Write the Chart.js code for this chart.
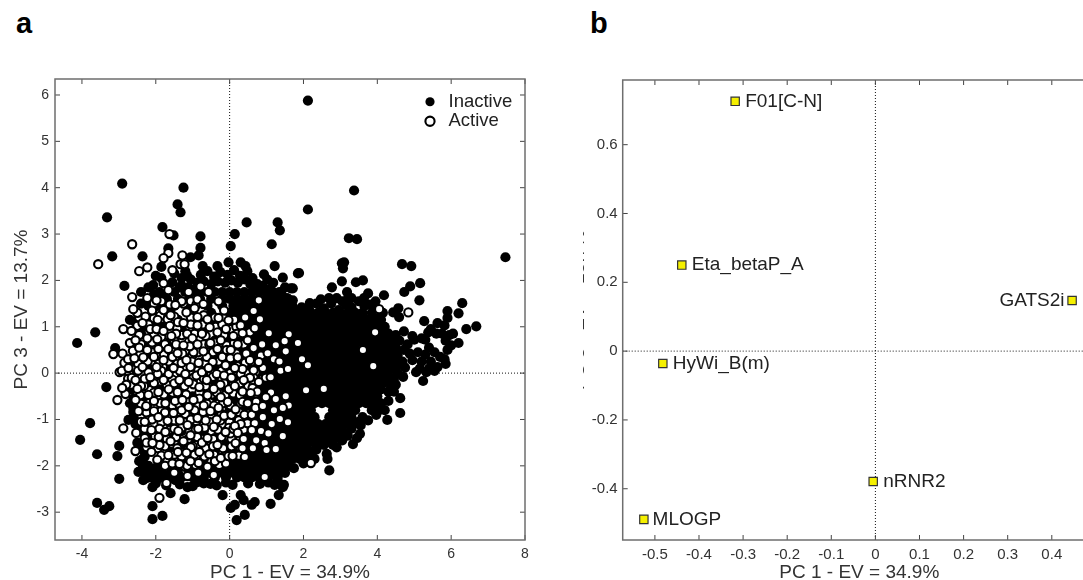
<!DOCTYPE html>
<html>
<head>
<meta charset="utf-8">
<style>
html, body { margin: 0; padding: 0; background: #fff; width: 1083px; height: 580px; overflow: hidden; }
canvas { position: absolute; top: 0; }
#chartA { left: 0; }
#chartB { left: 583px; }
.panel { position: absolute; top: 7px; font: bold 29px "Liberation Sans", Arial, sans-serif; color: #000; }
</style>
<script src="https://cdn.jsdelivr.net/npm/chart.js@4"></script>
</head>
<body>
<div class="panel" style="left:16px">a</div>
<div class="panel" style="left:590px">b</div>
<canvas id="chartA" width="560" height="580"></canvas>
<canvas id="chartB" width="520" height="580"></canvas>
<script>
var xTitle = "PC 1 - EV = 34.9%";
var yTitle = "PC 3 - EV = 13.7%";

// panel a ticks
var scoreXTicks = [-4, -2, 0, 2, 4, 6, 8];
var scoreYTicks = [-3, -2, -1, 0, 1, 2, 3, 4, 5, 6];
// panel b ticks
var loadXTicks = [-0.5, -0.4, -0.3, -0.2, -0.1, 0, 0.1, 0.2, 0.3, 0.4];
var loadYTicks = [-0.4, -0.2, 0, 0.2, 0.4, 0.6];

// panel b loadings
var variableNames = ["F01[C-N]", "Eta_betaP_A", "GATS2i", "HyWi_B(m)", "nRNR2", "MLOGP"];
var loadX = [-0.318, -0.439, 0.446, -0.482, -0.005, -0.525];
var loadY = [0.726, 0.25, 0.147, -0.036, -0.379, -0.489];

// inactive molecules that stand alone, read one by one
var inactiveSingles = [
[2.12,5.88],[3.37,3.94],[2.12,3.53],[3.23,2.91],[3.45,2.89],[7.47,2.5],[3.04,2.37],[3.1,2.39],[3.07,2.26],[1.88,2.16],
[4.67,2.35],[4.92,2.31],[5.16,1.94],[4.89,1.87],[4.73,1.75],[5.14,1.57],[4.18,1.68],[3.61,2.0],[3.75,1.72],[3.64,1.62],
[4.57,1.4],[4.43,1.31],[4.59,1.21],[6.3,1.51],[5.9,1.34],[6.2,1.29],[5.9,1.19],[6.68,1.01],[6.41,0.95],[5.27,1.12],
[5.63,1.08],[5.82,1.03],[5.38,0.88],[5.95,0.82],[6.2,0.65],[5.82,0.3],[5.63,0.13],[5.33,0.02],[5.24,-0.17],[5.05,0.02],
[5.3,0.72],[5.4,0.55],[5.55,0.45],[5.7,0.35],[5.3,0.4],[5.2,0.25],[5.45,0.25],[5.2,0.75],[5.85,0.7],[6.0,0.6],
[5.9,0.5],[5.75,0.85],[5.6,0.85],[5.45,0.95],[6.05,0.85],[5.85,0.2],[5.55,0.05],[5.15,0.1],[5.4,0.1],[5.1,0.45],
[-2.91,4.09],[-1.25,4.0],[-1.41,3.64],[-1.33,3.47],[-3.32,3.36],[-1.82,3.15],[0.46,3.25],[0.14,3.0],[-0.79,2.95],[-1.52,2.97],
[0.03,2.74],[1.3,3.25],[1.36,3.08],[1.14,2.78],[-0.79,2.7],[-3.18,2.52],[-2.36,2.52],[-1.66,2.69],[-1.85,2.29],[-2.85,1.88],
[-1.06,2.5],[-0.84,2.54],[-0.73,2.31],[-0.33,2.31],[-0.03,2.39],[0.3,2.39],[0.43,2.31],[0.93,2.13],[1.22,2.31],[1.85,2.15],
[1.44,2.06],[1.71,1.83],[1.66,1.83],[1.71,1.57],[2.17,1.51],[2.47,1.59],[2.69,1.62],[2.77,1.85],[3.04,1.98],[3.42,1.96],[3.18,1.75],
[-2.07,1.9],[-1.55,1.96],
[-4.13,0.65],[-3.64,0.88],[-3.1,0.54],[-3.34,-0.3],[-3.78,-1.08],[-4.05,-1.44],[-3.59,-1.75],[-2.99,-1.57],[-3.04,-1.79],[-2.99,-2.28],
[-3.59,-2.8],[-3.4,-2.95],[-3.26,-2.87],[-2.74,-1.01],[-2.61,-0.84],[-2.61,-0.75],[-2.42,-1.62],[-2.45,-1.9],[-2.47,-2.13],[-2.23,-1.38],[-2.28,-1.51],
[-0.19,-2.63],[-0.52,-2.39],[-0.87,-2.35],[-1.14,-2.46],[-1.22,-2.72],[-1.6,-2.59],[-2.09,-2.87],[-1.82,-3.08],[-2.09,-3.15],[-2.34,-2.31],
[-2.09,-2.46],[-2.23,-2.26],[-1.88,-2.26],[-1.47,-2.31],[0.03,-2.91],[0.19,-3.17],[0.41,-3.06],[0.68,-2.78],[0.6,-2.84],[1.11,-2.82],
[1.33,-2.63],[1.22,-2.41],[1.44,-2.46],[0.82,-2.39],[0.38,-2.74],[0.14,-2.84],[0.3,-2.63],[0.08,-2.41],
[4.62,-0.86],[4.62,-0.54],[4.27,-1.01],[3.34,-1.53],[3.53,-1.31],[3.55,-1.13],[3.97,-0.9],[2.7,-2.1],[2.65,-1.85],[2.74,-1.5],[2.63,-1.74],[1.74,-2.05],[1.47,-2.41],
[-0.78,2.12],[-0.6,2.2],[-0.42,2.08],[-0.25,2.18],[-0.05,2.12],[0.12,2.22],[0.28,2.1],[0.48,2.2],[0.62,2.05],[-1.05,2.02],
[-0.88,1.95],[-0.7,1.98],[-0.5,1.92],[-0.32,1.98],[-0.12,1.95],[0.05,2.0],[0.22,1.95],[0.4,2.02],[0.56,1.92],[0.75,1.92],
[1.02,2.02],[1.18,1.95],[-1.3,1.88],[-1.12,1.85],[-0.92,1.82],[0.9,1.88],[1.1,1.82],[0.72,1.8],
[1.95,1.42],[2.15,1.38],[2.35,1.5],[2.55,1.4],[2.75,1.5],[2.95,1.36],[3.15,1.47],[3.3,1.42],[3.65,1.45],
[4.5,0.82],[4.72,0.9],[4.95,0.8],[4.6,0.7],[4.82,0.62],[5.0,0.72],[4.5,0.55],[4.72,0.5],[4.88,0.42],[4.55,0.38],
[4.68,0.25],[4.52,0.15],[4.95,0.28],[4.75,0.12],[4.55,0.0],[4.7,-0.08],[4.45,-0.12],[4.35,-0.22],
[3.5,-1.05],[3.6,-0.95],[3.75,-1.02],[3.2,-1.35],[3.3,-1.2],[2.95,-1.4],[3.05,-1.45],[3.15,-1.3],[3.45,-1.4],[2.8,-1.55],
[2.9,-1.6],[4.0,-0.75],[4.2,-0.8],[4.3,-0.6],[4.45,-0.4],[4.3,-0.4],[4.5,-0.25],
[2.2,-1.7],[2.35,-1.55],[2.3,-1.45],[2.1,-1.85],[2.0,-1.95],[2.35,-1.65],[2.05,-1.82],[2.3,-1.85],
[2.9,1.62],[3.05,1.55],[3.3,1.62],[3.5,1.55],[3.8,1.48],[3.95,1.42],[4.15,1.3],[4.05,1.2],[3.95,1.55],[1.4,1.72],[1.55,1.62],[1.5,1.85],
[-2.4,1.75],[-2.2,1.85],[-1.9,1.75],[-2.05,1.7],[-1.5,1.75],[-1.35,1.85],[-1.75,1.65],[-2.4,1.5],[-2.2,1.45],[-1.85,1.45],
[-2.7,1.15],[-2.55,1.1],[-1.15,2.1],[-1.3,2.05],[-1.5,2.15],[-1.2,2.2],[-1.85,2.05],[-2.0,2.1],
[-2.6,-1.0],[-2.5,-1.5],[-2.6,-0.55],[-2.55,-1.1],[-2.3,-1.8],[-2.35,-2.0],[-2.15,-2.1],
[-2.0,-2.38],[-1.72,-2.42],[-1.35,-2.4],[-1.0,-2.44],[-0.7,-2.38],[-0.35,-2.42],[-0.1,-2.36],[0.5,-2.38],[1.05,-2.36],[1.3,-2.32]
];

// inactive molecules in the dense cloud, one [y, x values] per row
var inactiveRows = [
[1.75,[-1.2,-1,-0.8,-0.6,-0.4,-0.2,0,0.2,0.4,0.6,0.8,1,1.18,1.35]],
[1.6,[-1.7,-1.4,-1.1,-0.8,-0.5,-0.2,0,0.2,0.4,0.6,0.8,1,1.2,1.4,1.58,3.2]],
[1.45,[-1.95,-1.5,-1.1,-0.6,-0.2,0.1,0.3,0.5,0.7,0.9,1.1,1.3,1.5,1.7]],
[1.3,[-2.5,-2.1,-1.6,-1,-0.5,0,0.2,0.4,0.6,0.8,1,1.2,1.4,1.6,1.8,2,2.2,2.4,2.6,2.8,3,3.2,3.4,3.6,3.85]],
[1.15,[-2.45,-2,-1.4,-0.8,-0.2,0.1,0.3,0.5,0.7,0.9,1.1,1.3,1.5,1.7,1.9,2.1,2.3,2.5,2.7,2.9,3.1,3.3,3.5,3.7,3.9,4.1]],
[1,[-2.3,-1.8,-1.2,-0.6,0,0.2,0.4,0.6,0.8,1,1.2,1.4,1.6,1.8,2,2.2,2.4,2.6,2.8,3,3.2,3.4,3.6,3.8,4,4.2]],
[0.85,[-2.4,-1.9,-1.3,-0.7,-0.1,0.1,0.3,0.5,0.7,0.9,1.1,1.3,1.5,1.7,1.9,2.1,2.3,2.5,2.7,2.9,3.1,3.3,3.5,3.7,3.9,4.1,4.3]],
[0.7,[-2.2,-1.6,-1,-0.4,0,0.2,0.4,0.6,0.8,1,1.2,1.4,1.6,1.8,2,2.2,2.4,2.6,2.8,3,3.2,3.4,3.6,3.8,4,4.2,4.4]],
[0.55,[-2.5,-1.9,-1.3,-0.7,-0.1,0.1,0.3,0.5,0.7,0.9,1.1,1.3,1.5,1.7,1.9,2.1,2.3,2.5,2.7,2.9,3.1,3.3,3.5,3.7,3.9,4.1,4.3]],
[0.4,[-2.2,-1.6,-1,-0.4,0,0.2,0.4,0.6,0.8,1,1.2,1.4,1.6,1.8,2,2.2,2.4,2.6,2.8,3,3.2,3.4,3.6,3.8,4,4.2,4.4]],
[0.25,[-2.6,-1.9,-1.3,-0.7,-0.1,0.1,0.3,0.5,0.7,0.9,1.1,1.3,1.5,1.7,1.9,2.1,2.3,2.5,2.7,2.9,3.1,3.3,3.5,3.7,3.9,4.1,4.3,4.5]],
[0.1,[-2.2,-1.6,-1,-0.4,0,0.2,0.4,0.6,0.8,1,1.2,1.4,1.6,1.8,2,2.2,2.4,2.6,2.8,3,3.2,3.4,3.6,3.8,4,4.2,4.4]],
[-0.05,[-2.6,-1.9,-1.3,-0.7,-0.1,0.1,0.3,0.5,0.7,0.9,1.1,1.3,1.5,1.7,1.9,2.1,2.3,2.5,2.7,2.9,3.1,3.3,3.5,3.7,3.9,4.1,4.3]],
[-0.2,[-2.2,-1.6,-1,-0.4,0,0.2,0.4,0.6,0.8,1,1.2,1.4,1.6,1.8,2,2.2,2.4,2.6,2.8,3,3.2,3.4,3.6,3.8,4,4.2]],
[-0.35,[-2.65,-1.9,-1.3,-0.7,-0.1,0.1,0.3,0.5,0.7,0.9,1.1,1.3,1.5,1.7,1.9,2.1,2.3,2.5,2.7,2.9,3.1,3.3,3.5,3.7,3.9,4.1]],
[-0.5,[-2.3,-1.6,-1,-0.4,0,0.2,0.4,0.6,0.8,1,1.2,1.4,1.6,1.8,2,2.2,2.4,2.6,2.8,3,3.2,3.4,3.6,3.8,4]],
[-0.65,[-2.7,-1.9,-1.3,-0.7,-0.1,0.1,0.3,0.5,0.7,0.9,1.1,1.3,1.5,1.7,1.9,2.1,2.3,2.5,2.7,2.9,3.1,3.3,3.5,3.7,3.9,4.1]],
[-0.8,[-2.4,-1.6,-1,-0.4,0,0.2,0.4,0.6,0.8,1,1.2,1.4,1.6,1.8,2,2.2,2.8,3,3.2,3.4,3.85,4.05]],
[-0.95,[-2.6,-1.9,-1.3,-0.7,-0.1,0.1,0.3,0.5,0.7,0.9,1.1,1.3,1.5,1.7,1.9,2.1,2.3,2.7,2.9,3.1,3.3]],
[-1.1,[-2.3,-1.6,-1,-0.4,0,0.2,0.4,0.6,0.8,1,1.2,1.4,1.6,1.8,2,2.2,2.4,2.6,2.8,3,3.2,3.35]],
[-1.25,[-2.45,-1.9,-1.3,-0.7,-0.1,0.1,0.3,0.5,0.7,0.9,1.1,1.3,1.5,1.7,1.9,2.1,2.3,2.5,2.7,2.9,3.05]],
[-1.4,[-2.3,-1.6,-1,-0.4,0,0.2,0.4,0.6,0.8,1,1.2,1.4,1.6,1.8,2,2.2,2.4,2.6,2.8]],
[-1.55,[-2.4,-1.9,-1.3,-0.7,-0.1,0.1,0.3,0.5,0.7,0.9,1.1,1.3,1.5,1.7,1.9,2.1,2.55]],
[-1.7,[-2.3,-1.6,-1,-0.4,0,0.2,0.4,0.6,0.8,1,1.2,1.4,1.6,1.8,2]],
[-1.85,[-2.35,-1.9,-1.3,-0.7,-0.1,0.1,0.3,0.5,0.7,0.9,1.1,1.3,1.5,1.7,1.9]],
[-2,[-2.2,-1.95,-1.75,-1.45,-1.2,-1,-0.7,-0.4,-0.15,0,0.2,0.4,0.6,0.8,1,1.2,1.4,1.6]],
[-2.15,[-2.3,-2,-1.85,-1.6,-1.4,-1.1,-0.9,-0.7,-0.5,-0.3,-0.1,0.1,0.3,0.5,0.7,0.9,1.1,1.3,1.5]],
[-2.25,[-2.1,-1.65,-1.3,-1,-0.7,-0.4,-0.1,0.2,0.4,0.6,0.8,1.05,1.3]]
];

// active molecules hidden lower in the pile
var activeUnder = [
[-2.05,1.5],[-1.85,1.55],[-1.62,1.48],[-1.25,1.5],[-1.05,1.55],[-0.9,1.48],
[-2.45,1.2],[-2.28,1.22],[-2.05,1.18],[-1.88,1.24],[-1.68,1.16],[-1.5,1.22],[-1.05,1.2],[-0.7,1.25],[-0.45,1.18],[-0.18,1.2],
[-2.5,1.02],[-2.2,1.05],[-2.0,0.98],[-1.62,1.02],[-1.42,0.96],[-1.08,0.98],[-0.72,1.02],[-0.38,1.0],[-0.2,1.05],[0.02,0.95],[0.18,1.0],
[-2.45,0.82],[-2.05,0.85],[-1.85,0.78],[-1.3,0.82],[-0.95,0.85],[-0.65,0.8],[-0.15,0.82],[0.2,0.85],
[-2.7,0.65],[-2.4,0.62],[-2.1,0.66],[-1.75,0.62],[-1.5,0.7],[-1.1,0.68],[-0.7,0.62],[-0.38,0.66],[-0.08,0.6],[0.12,0.65],[0.38,0.62],
[-2.9,0.42],[-2.62,0.48],[-2.42,0.4],[-2.08,0.45],[-1.78,0.4],[-1.55,0.46],[-1.28,0.42],[-1.02,0.38],[-0.85,0.45],[-0.55,0.4],[-0.2,0.48],[0.18,0.42],[0.45,0.45],
[-2.85,0.22],[-2.48,0.2],[-2.22,0.25],[-1.92,0.2],[-1.65,0.25],[-1.42,0.2],[-1.02,0.25],[-0.65,0.2],[-0.3,0.25],[-0.08,0.2],[0.42,0.22],[0.6,0.25],
[-2.98,0.02],[-2.72,-0.02],[-2.48,0.05],[-2.2,0.02],[-1.85,0.05],[-1.5,-0.02],[-1.35,0.05],[-1.05,0.0],[-0.85,0.06],[-0.5,0.0],[-0.22,0.05],[0.02,0.0],[0.2,0.05],[0.45,0.0],[0.7,0.02],
[-2.75,-0.12],[-2.05,-0.1],[-1.55,-0.14],[-0.98,-0.1],[-0.7,-0.12],[-0.45,-0.08],[0.65,-0.1],[0.9,-0.12],
[-2.65,-0.25],[-2.32,-0.28],[-2.05,-0.22],[-1.7,-0.26],[-1.5,-0.22],[-1.22,-0.28],[-0.98,-0.24],[-0.65,-0.28],[-0.15,-0.22],[0.1,-0.26],[0.28,-0.22],[0.5,-0.28],[0.65,-0.24],
[-2.82,-0.45],[-2.42,-0.48],[-2.05,-0.42],[-1.78,-0.46],[-1.55,-0.42],[-1.18,-0.46],[-0.82,-0.42],[-0.48,-0.46],[-0.35,-0.42],[-0.12,-0.48],[0.1,-0.44],[0.28,-0.48],[0.72,-0.44],
[-2.4,-0.66],[-2.02,-0.7],[-1.88,-0.65],[-1.55,-0.7],[-1.38,-0.66],[-0.88,-0.7],[-0.62,-0.66],[-0.42,-0.7],[-0.18,-0.65],[0.02,-0.7],[0.3,-0.66],[0.65,-0.7],
[-2.25,-0.85],[-2.05,-0.82],[-1.62,-0.88],[-1.4,-0.84],[-1.2,-0.88],[-0.72,-0.84],[-0.22,-0.88],[0.25,-0.84],[0.5,-0.88],
[-2.4,-1.05],[-2.2,-1.02],[-1.85,-1.06],[-1.5,-1.02],[-1.22,-1.06],[-0.9,-1.04],[-0.52,-1.06],[-0.25,-1.02],[0.0,-1.06],[0.25,-1.02],[0.45,-1.06],
[-2.3,-1.2],[-1.6,-1.22],[-1.3,-1.18],[-0.92,-1.22],[-0.68,-1.18],[-0.32,-1.22],[-0.02,-1.18],[0.38,-1.22],
[-2.3,-1.4],[-1.92,-1.38],[-1.7,-1.42],[-1.45,-1.38],[-1.12,-1.42],[-0.88,-1.38],[-0.45,-1.42],[-0.15,-1.38],[0.05,-1.42],[0.28,-1.4],
[-2.25,-1.6],[-1.95,-1.62],[-1.75,-1.58],[-1.42,-1.62],[-1.0,-1.58],[-0.65,-1.62],[-0.45,-1.58],[-0.18,-1.62],[0.05,-1.58],[0.3,-1.62],
[-1.85,-1.78],[-1.5,-1.76],[-1.3,-1.8],[-0.95,-1.76],[-0.68,-1.8],[-0.42,-1.76],[-0.12,-1.8],[0.25,-1.78],
[-1.75,-2.0],[-1.52,-1.96],[-1.2,-2.02],[-0.92,-1.98],[-0.6,-2.02],[-0.28,-1.98],[-1.5,-2.15],[-0.85,-2.15],
[0.42,1.2],[0.55,0.88],[0.88,0.62],[0.45,0.42],[0.85,0.38],[1.2,0.3],[0.55,0.28],[1.35,0.25],[0.98,-0.1],[0.62,-0.32],
[0.35,-0.62],[0.72,-0.62],[1.12,-0.42],[0.48,-1.08],[0.85,-1.25],[0.35,-1.62],[0.72,-1.45],[1.05,-1.3],[1.6,-0.7],[1.2,-0.8],[1.38,0.05]
];

// active molecules, read one by one; the later ones lie on top
var activePoints = [
[-2.5,1.3],[-2.1,1.35],[-1.6,1.25],[-1.4,1.1],[-1.05,1.05],[-0.72,1.05],[-0.4,1.2],[-0.15,1.35],[-0.3,1.55],[-0.95,1.4],
[-1.3,1.55],[-1.95,1.15],[-2.15,0.95],[-1.98,0.95],[-1.45,0.85],[-1.15,0.85],[-0.75,0.85],[-0.1,0.95],[0.1,0.8],[0.12,1.15],
[-0.45,0.45],[-0.2,0.35],[0.02,0.32],[0.2,0.15],[-0.55,0.62],[-0.62,0.35],[-0.98,0.45],[-1.08,0.58],[-1.45,0.62],[-1.55,0.35],
[-1.3,0.22],[-2.05,0.35],[-2.45,0.55],[-2.75,0.3],[-2.92,0.05],[-2.65,-0.1],[-2.8,-0.25],[-2.3,-0.12],[-1.95,-0.02],[-1.65,-0.02],
[-1.2,-0.02],[-0.9,-0.05],[-0.75,0.02],[-0.35,-0.02],[-0.15,-0.05],[0.05,-0.1],[0.3,-0.02],[0.55,-0.1],[-0.62,-0.15],[-0.25,-0.25],
[-0.02,-0.35],[0.35,-0.4],[-0.6,-0.48],[-0.82,-0.55],[-1.48,-0.6],[-1.65,-0.35],[-2.05,-0.6],[-2.4,-0.28],[-1.75,-0.85],[-1.3,-0.8],
[-0.95,-0.8],[-0.7,-0.7],[-0.3,-0.75],[-0.05,-0.62],[-0.15,-0.92],[-0.35,-1.0],[-0.65,-1.02],[-1.05,-1.0],[-1.35,-1.02],[-2.1,-1.0],
[-2.3,-1.05],[-1.9,-1.2],[-1.5,-1.2],[-0.85,-1.2],[-0.22,-1.38],[0.02,-1.3],[-0.75,-1.5],[-1.05,-1.6],[-1.4,-1.7],[-1.9,-1.55],
[-0.55,-1.75],[-0.1,-1.95],[-0.4,-1.9],[-1.55,-1.95],[-2.25,-1.5],[-1.15,-2.0],[0.1,-1.2],[0.4,-0.9],[0.6,-0.9],[0.05,-0.9],
[0.3,-1.1],[0.75,-0.4],[0.7,-0.75],
[-1.63,3.0],[-2.64,2.78],[-3.56,2.35],[-1.66,2.59],[-1.79,2.48],[-1.28,2.54],[-1.33,2.35],[-1.22,2.35],[-1.55,2.22],[-2.23,2.28],[-2.45,2.2],
[-2.64,1.64],[-2.23,1.62],[-1.98,1.57],[-1.79,1.94],[-1.66,1.79],[-1.11,1.75],[-0.87,1.59],[-0.79,1.87],[-0.57,1.75],[-0.71,1.49],
[-2.61,1.38],[-1.79,1.36],[-1.47,1.47],[-1.17,1.31],[-2.36,1.08],[-2.88,0.95],[-2.66,0.91],[-1.79,0.91],[-1.25,1.08],[-0.87,1.21],
[-0.87,1.03],[-0.6,1.16],[-0.54,0.99],[-0.33,0.88],[-1.58,0.8],[-2.55,0.71],[-2.23,0.75],[-1.96,0.73],[-1.01,0.75],[-1.25,0.6],
[-0.87,0.62],[-0.52,0.65],[-0.24,0.71],[-1.93,0.52],[-1.66,0.52],[-2.23,0.5],[-0.71,0.47],[-0.33,0.52],[-3.15,0.41],[-1.41,0.43],
[-2.58,0.32],[-2.34,0.34],[-1.79,0.28],[-1.17,0.28],[-0.84,0.22],[-0.46,0.24],[-2.74,0.11],[-2.36,0.13],[-1.98,0.13],[-1.52,0.11],
[-1.06,0.13],[-0.57,0.11],[-0.11,0.17],[-0.08,0.5],[-0.3,1.19],[-0.03,1.14],
[-2.91,-0.32],[-3.04,-0.58],[-2.55,-0.15],[-2.5,-0.34],[-2.15,-0.09],[-1.79,-0.15],[-1.36,-0.15],[-1.11,-0.19],[-0.82,-0.3],[-0.43,-0.34],
[-1.93,-0.41],[-1.41,-0.41],[-2.2,-0.47],[-2.55,-0.58],[-1.74,-0.65],[-1.28,-0.58],[-0.98,-0.58],[-0.24,-0.52],[-2.26,-0.71],[-1.11,-0.73],
[-0.52,-0.82],[-2.47,-0.82],[-1.93,-0.95],[-1.52,-0.86],[-0.87,-0.97],[-2.88,-1.19],[-2.53,-1.29],[-1.68,-1.03],[-1.14,-1.12],[-0.43,-1.16],
[-0.11,-1.27],[-2.12,-1.23],[-1.74,-1.27],[-1.39,-1.25],[-1.06,-1.34],[-0.6,-1.4],[-2.09,-1.51],[-1.6,-1.47],[-1.25,-1.47],[-0.33,-1.55],
[-2.55,-1.68],[-2.12,-1.7],[-1.66,-1.77],[-1.17,-1.72],[-0.82,-1.7],[-1.96,-1.87],[-1.36,-1.96],[-0.84,-1.94],[-0.24,-1.83],[-1.14,-2.22],
[-0.43,-2.2],[-1.71,-2.37],[-1.9,-2.69],[-0.03,-1.79],[-1.06,-1.9],
[0.79,1.57],[0.65,1.34],[0.82,1.16],[0.3,1.03],[0.68,0.97],[1.06,0.86],[1.6,0.84],[1.49,0.69],[1.85,0.65],[1.25,0.6],
[0.22,0.62],[0.35,0.86],[0.03,0.5],[0.65,0.54],[1.03,0.43],[1.52,0.47],[1.96,0.3],[2.12,0.17],[1.58,0.09],[0.9,0.11],
[0.65,0.06],[0.35,0.09],[0.22,0.34],[0.49,0.71],[0.14,0.11],[0.79,0.24],
[2.07,-0.37],[2.55,-0.34],[1.52,-0.5],[1.11,-0.09],[0.79,-0.19],[0.38,-0.15],[0.14,-0.28],[0.57,-0.43],[0.98,-0.52],[1.25,-0.56],
[0.49,-0.65],[0.9,-0.71],[1.44,-0.75],[0.16,-0.78],[0.9,-0.95],[1.36,-0.99],[1.58,-1.06],[1.14,-1.1],[0.14,-1.14],[0.68,-1.08],
[0.6,-1.23],[0.22,-1.29],[1.44,-1.36],[0.38,-1.42],[0.95,-1.51],[0.16,-1.51],[0.63,-1.62],[1.25,-1.64],[1.0,-1.66],[0.41,-1.81],
[0.08,-1.79],[2.2,-1.94],[0.95,-2.24],[3.94,0.88],[3.61,0.5],[3.89,0.15],[4.05,1.38],[4.84,1.31]
];

var fontName = '"Liberation Sans", Arial, sans-serif';

function toPoints(pairs) {
    return pairs.map(function (p) { return { x: p[0], y: p[1] }; });
}

function rowsToPoints(rows) {
    var out = [];
    rows.forEach(function (row) {
        row[1].forEach(function (x) { out.push({ x: x, y: row[0] }); });
    });
    return out;
}

// frame, inward ticks and dotted zero lines
var framePlugin = {
    id: "frame",
    beforeDatasetsDraw: function (chart) {
        var c = chart.ctx, a = chart.chartArea;
        var zx = chart.scales.x.getPixelForValue(0), zy = chart.scales.y.getPixelForValue(0);
        c.save();
        c.strokeStyle = "#111";
        c.lineWidth = 1;
        c.setLineDash([1, 2]);
        c.beginPath();
        c.moveTo(zx, a.top); c.lineTo(zx, a.bottom);
        c.moveTo(a.left, zy); c.lineTo(a.right, zy);
        c.stroke();
        c.restore();
    },
    afterDatasetsDraw: function (chart) {
        var c = chart.ctx, a = chart.chartArea;
        c.save();
        c.strokeStyle = "#444";
        c.lineWidth = 1;
        c.beginPath();
        chart.scales.x.ticks.forEach(function (t) {
            var p = chart.scales.x.getPixelForValue(t.value);
            c.moveTo(p, a.bottom); c.lineTo(p, a.bottom - 5);
            c.moveTo(p, a.top); c.lineTo(p, a.top + 5);
        });
        chart.scales.y.ticks.forEach(function (t) {
            var p = chart.scales.y.getPixelForValue(t.value);
            c.moveTo(a.left, p); c.lineTo(a.left + 5, p);
            c.moveTo(a.right, p); c.lineTo(a.right - 5, p);
        });
        c.stroke();
        c.strokeStyle = "#6e6e6e";
        c.lineWidth = 1.5;
        c.strokeRect(a.left, a.top, a.right - a.left, a.bottom - a.top);
        c.restore();
    }
};

// moves the legend to the top right corner of panel a
var legendPlacePlugin = {
    id: "legendPlace",
    afterLayout: function (chart) {
        var l = chart.legend;
        l.left = 419.75; l.top = 91.5;
        l.right = 540; l.bottom = 140;
        l.width = l.right - l.left; l.height = l.bottom - l.top;
    }
};

// names beside the squares in panel b
var namePlugin = {
    id: "names",
    afterDatasetsDraw: function (chart) {
        var c = chart.ctx, pts = chart.getDatasetMeta(0).data;
        c.save();
        c.font = "19px " + fontName;
        c.fillStyle = "#222";
        c.textBaseline = "middle";
        pts.forEach(function (el, i) {
            var left = variableNames[i] === "GATS2i";
            c.textAlign = left ? "right" : "left";
            var gap = variableNames[i] === "MLOGP" ? 8.7 : 10;
            c.fillText(variableNames[i], el.x + (left ? -7.5 : gap), el.y);
        });
        c.restore();
    }
};

function axis(min, max, ticks, label, isX, fmt, titlePad, fitSize, fontSize, tickPad) {
    return {
        type: "linear",
        position: isX ? "bottom" : "left",
        min: min,
        max: max,
        afterBuildTicks: function (s) { s.ticks = ticks.map(function (v) { return { value: v }; }); },
        afterFit: function (s) { if (isX) { s.height = fitSize; } else { s.width = fitSize; } },
        grid: { display: false, drawTicks: false },
        border: { display: false },
        ticks: {
            autoSkip: false, maxRotation: 0, padding: tickPad, color: "#333",
            font: { family: fontName, size: fontSize },
            callback: fmt
        },
        title: {
            display: true, text: label, color: "#333", padding: titlePad,
            font: { family: fontName, size: 19 }
        }
    };
}

var chartA = new Chart(document.getElementById("chartA"), {
    type: "scatter",
    plugins: [framePlugin, legendPlacePlugin],
    data: {
        datasets: [
            {
                label: "Inactive", order: 2,
                data: toPoints(inactiveSingles).concat(rowsToPoints(inactiveRows)),
                pointStyle: "circle", pointRadius: 5.1, borderWidth: 0,
                backgroundColor: "#000", borderColor: "#000"
            },
            {
                label: "Active", order: 1,
                data: toPoints(activeUnder).concat(toPoints(activePoints)),
                pointStyle: "circle", pointRadius: 4.1, borderWidth: 2.1,
                backgroundColor: "#fff", borderColor: "#000"
            }
        ]
    },
    options: {
        responsive: false, animation: false,
        layout: { padding: { top: 79, right: 35, left: 0, bottom: 0 } },
        plugins: {
            tooltip: { enabled: false },
            legend: {
                position: "chartArea", align: "start",
                labels: {
                    usePointStyle: true, boxHeight: 6.5, padding: 1, color: "#222",
                    font: { family: fontName, size: 18.5 },
                    sort: function (a, b) { return a.datasetIndex - b.datasetIndex; }
                }
            }
        },
        scales: {
            x: axis(-4.73, 8, scoreXTicks, xTitle, true, function (v) { return String(v); }, { top: 0, bottom: -4 }, 40, 14, 6),
            y: axis(-3.6, 6.345, scoreYTicks, yTitle, false, function (v) { return String(v); }, { top: 10, bottom: 0 }, 55, 14, 6)
        }
    }
});

var chartB = new Chart(document.getElementById("chartB"), {
    type: "scatter",
    plugins: [framePlugin, namePlugin],
    data: {
        datasets: [{
            label: "Loadings",
            data: loadX.map(function (x, i) { return { x: x, y: loadY[i] }; }),
            pointStyle: "rect", pointRadius: 5.9, borderWidth: 1.2,
            backgroundColor: "#f5f000", borderColor: "#333"
        }]
    },
    options: {
        responsive: false, animation: false,
        layout: { padding: { top: 80, right: 5, left: 0, bottom: 0 } },
        plugins: { legend: { display: false }, tooltip: { enabled: false } },
        scales: {
            x: axis(-0.573, 0.5, loadXTicks, xTitle, true, function (v) { return v === 0 ? "0" : v.toFixed(1); }, { top: 0, bottom: -4 }, 40, 15, 6),
            y: axis(-0.549, 0.788, loadYTicks, yTitle, false, function (v) { return v === 0 ? "0" : v.toFixed(1); }, { top: -16, bottom: 0 }, 39.7, 15, 5)
        }
    }
});
</script>
</body>
</html>
